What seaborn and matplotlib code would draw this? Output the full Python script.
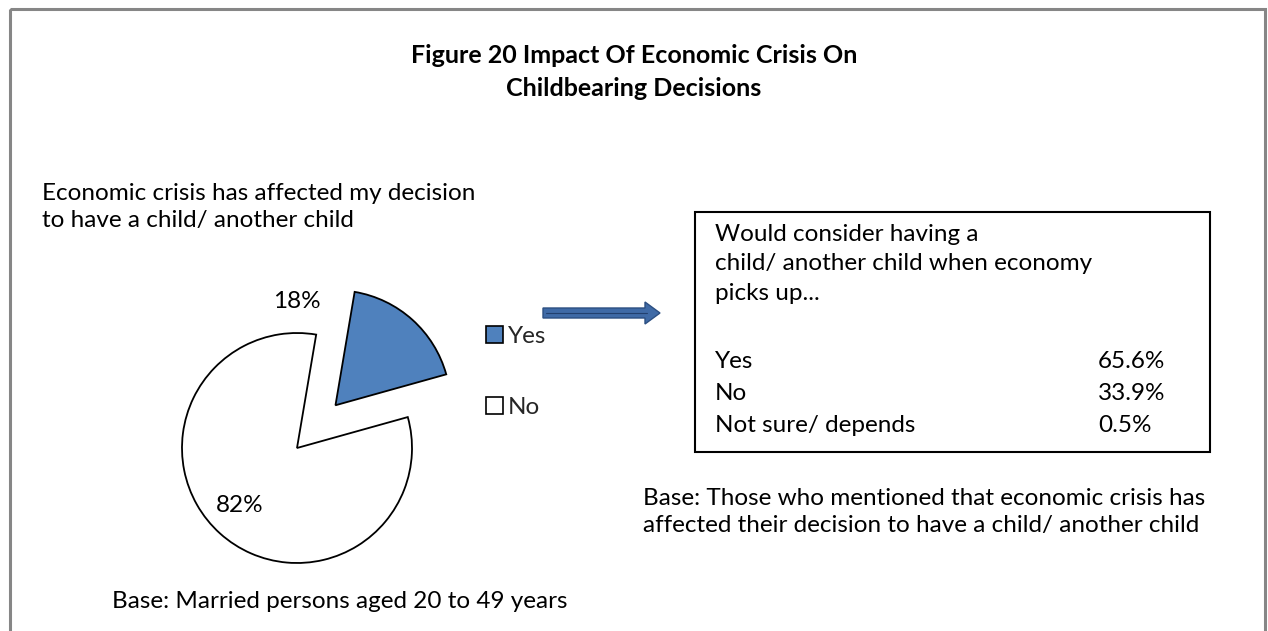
import matplotlib
matplotlib.use("Agg")
import matplotlib.pyplot as plt
from matplotlib.patches import Rectangle, FancyArrow
import seaborn as sns

# Survey answers
pie_labels = ["Yes", "No"]
pie_values = [18, 82]
pie_colors = ["#4F81BD", "#FFFFFF"]

followup_labels = ["Yes", "No", "Not sure/ depends"]
followup_values = [65.6, 33.9, 0.5]

title_text = "Figure 20 Impact Of Economic Crisis On\nChildbearing Decisions"
pie_question = "Economic crisis has affected my decision\nto have a child/ another child"
box_question = "Would consider having a\nchild/ another child when economy\npicks up..."
pie_base = "Base: Married persons aged 20 to 49 years"
box_base = ("Base: Those who mentioned that economic crisis has\n"
            "affected their decision to have a child/ another child")

sns.set_theme(style="white")
plt.rcParams["font.family"] = ["Lato", "DejaVu Sans"]

W, H = 1268, 631
fig = plt.figure(figsize=(W / 100, H / 100), dpi=100)
fig.patch.set_facecolor("white")

# Overlay axes in pixel units (y downward) for frame, text, arrow and box
ax = fig.add_axes([0, 0, 1, 1])
ax.set_xlim(0, W)
ax.set_ylim(H, 0)
ax.axis("off")

# Outer chart frame
ax.add_patch(Rectangle((10, 9), 1255, 640, fill=False, edgecolor="#868686", linewidth=2.2))

body = 17.5
ax.text(634, 72, title_text, ha="center", va="center", fontsize=18,
        fontweight="bold", linespacing=1.5, color="black")
ax.text(42, 207, pie_question, ha="left", va="center", fontsize=body,
        linespacing=1.3, color="black")
ax.text(112, 602, pie_base, ha="left", va="center", fontsize=body, color="black")
ax.text(643, 512, box_base, ha="left", va="center", fontsize=body,
        linespacing=1.35, color="black")

# Arrow pointing to the follow-up box
ax.add_patch(FancyArrow(543, 313, 117, 0, width=10, head_width=22, head_length=15,
                        length_includes_head=True, facecolor="#3F6AA6",
                        edgecolor="#2C4F82", linewidth=1))
ax.plot([546, 647], [313, 313], color="#22406E", linewidth=0.8)

# Follow-up box
bx0, by0, bx1, by1 = 695, 212, 1210, 452
ax.add_patch(Rectangle((bx0, by0), bx1 - bx0, by1 - by0, fill=False,
                       edgecolor="black", linewidth=1.5))
ax.text(715, 264, box_question, ha="left", va="center", fontsize=body,
        linespacing=1.5, color="black")
row_y = [362, 394, 426]
for lab, val, y in zip(followup_labels, followup_values, row_y):
    ax.text(715, y, lab, ha="left", va="center", fontsize=body, color="black")
    ax.text(1098, y, f"{val:.1f}%", ha="left", va="center", fontsize=body, color="black")

# Pie axes: 1 data unit equals the pie radius (115 px), centred at (297, 448)
R = 115.0
cx, cy = 297.0, 448.0
half = 200.0
pax = fig.add_axes([(cx - half) / W, (H - cy - half) / H, 2 * half / W, 2 * half / H])
pax.set_aspect("equal")
pax.axis("off")
pax.patch.set_alpha(0)

wedges, _ = pax.pie(pie_values, colors=pie_colors, startangle=80.4, counterclock=False,
                    explode=[0.5, 0.0], radius=1.0,
                    wedgeprops=dict(edgecolor="black", linewidth=1.3))
pax.set_xlim(-half / R, half / R)
pax.set_ylim(-half / R, half / R)

label_pos = [(0.0, 1.27), (-0.496, -0.496)]
for v, (x, y) in zip(pie_values, label_pos):
    pax.text(x, y, f"{v}%", ha="center", va="center", fontsize=body, color="black")

leg = fig.legend(wedges, pie_labels, loc="upper left",
                 bbox_to_anchor=(476 / W, 1 - 316 / H), frameon=False,
                 fontsize=body, handlelength=0.7, handleheight=0.7,
                 handletextpad=0.2, labelspacing=2.05, borderaxespad=0)
for h in leg.legend_handles:
    h.set_linewidth(1.2)

fig.savefig("out.png", dpi=100, facecolor="white")
